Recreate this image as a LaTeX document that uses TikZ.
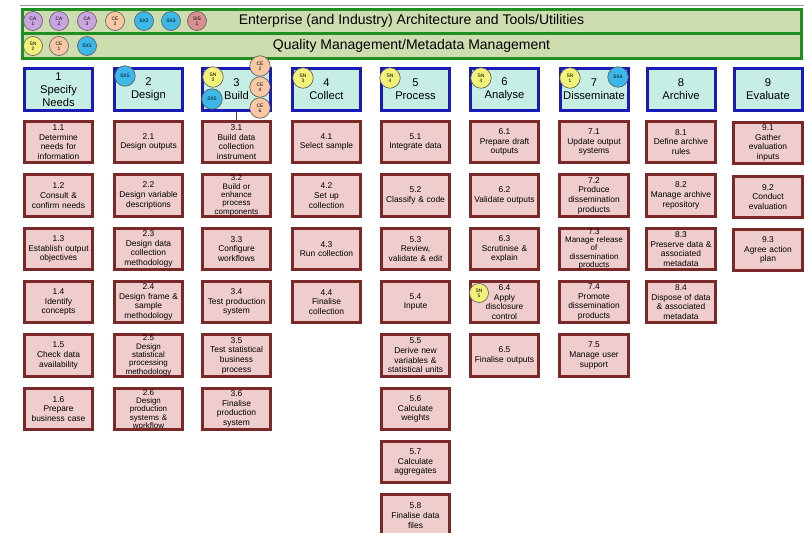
\documentclass[tikz,border=0pt]{standalone}
\usepackage{fontspec}
\setmainfont{Liberation Sans}
\definecolor{bandfill}{HTML}{CEDDB0}
\definecolor{bandline}{HTML}{1F8F22}
\definecolor{hdrfill}{HTML}{C6EEE4}
\definecolor{hdrline}{HTML}{1A1AB8}
\definecolor{taskfill}{HTML}{EFCDCD}
\definecolor{taskline}{HTML}{7A2828}
\definecolor{tagCA}{HTML}{C9A4E0}
\definecolor{tagCE}{HTML}{F8C8A4}
\definecolor{tagSX}{HTML}{3BB8E8}
\definecolor{tagSIS}{HTML}{D89090}
\definecolor{tagSN}{HTML}{F2F27A}
\tikzset{
  band/.style={draw=bandline, line width=3pt, fill=bandfill, minimum width=779pt,
    minimum height=24.5pt, inner sep=0pt, font=\fontsize{14}{16}\selectfont},
  hdr/.style={draw=hdrline, line width=3pt, fill=hdrfill, minimum width=68pt,
    minimum height=42pt, inner sep=0pt, align=center, font=\fontsize{11.2}{13}\selectfont},
  task/.style={draw=taskline, line width=2.6pt, fill=taskfill, minimum width=68.5pt,
    minimum height=41.5pt, inner sep=0pt, align=center, text width=68pt,
    font=\fontsize{8.4}{9.7}\selectfont},
  tight/.style={font=\fontsize{8}{8.3}\selectfont},
  tag/.style={circle, draw=black!65, line width=0.6pt, inner sep=0pt, align=center,
    font=\fontsize{4.9}{5.2}\selectfont},
  smalltag/.style={tag, minimum size=19pt},
  bigtag/.style={tag, minimum size=20.5pt},
}
\begin{document}
\begin{tikzpicture}[x=1pt,y=-1pt]
\useasboundingbox (0,0) rectangle (804,533);
\fill[white] (0,0) rectangle (804,533);

% thin rule above the bands
\draw[black!40, line width=1pt] (20,5) -- (804,5);

% cross-cutting bands
\node[band] (ent) at (411.5,21.25) {Enterprise (and Industry) Architecture and Tools/Utilities};
\node[band] (qm)  at (411.5,45.75) {Quality Management/Metadata Management};

% phase headers
\node[hdr] (h1) at (58.5,89.5)  {1\\Specify\\Needs};
\node[hdr] (h2) at (148.5,89.5) {2\\Design};
\node[hdr] (h3) at (236.5,89.5) {3\\Build};
\node[hdr] (h4) at (326.5,89.5) {4\\Collect};
\node[hdr] (h5) at (415.5,89.5) {5\\Process};
\node[hdr] (h6) at (504.5,89.5) {6\\Analyse};
\node[hdr] (h7) at (594,89.5)   {7\\Disseminate};
\node[hdr] (h8) at (681,89.5)   {8\\Archive};
\node[hdr] (h9) at (768,89.5)   {9\\Evaluate};

% sub-processes, column 1
\node[task] (b11) at (58.5,142)   {1.1\\Determine\\needs for\\information};
\node[task] (b12) at (58.5,195.5) {1.2\\Consult \&\\confirm needs};
\node[task] (b13) at (58.5,249)   {1.3\\Establish output\\objectives};
\node[task] (b14) at (58.5,302)   {1.4\\Identify\\concepts};
\node[task] (b15) at (58.5,355.5) {1.5\\Check data\\availability};
\node[task] (b16) at (58.5,409)   {1.6\\Prepare\\business case};

% column 2
\node[task] (b21) at (148.5,142)   {2.1\\Design outputs};
\node[task] (b22) at (148.5,195.5) {2.2\\Design variable\\descriptions};
\node[task] (b23) at (148.5,249)   {2.3\\Design data\\collection\\methodology};
\node[task] (b24) at (148.5,302)   {2.4\\Design frame \&\\sample\\methodology};
\node[task,tight] (b25) at (148.5,355.5) {2.5\\Design\\statistical\\processing\\methodology};
\node[task,tight] (b26) at (148.5,409)   {2.6\\Design\\production\\systems \&\\workflow};

% column 3
\node[task] (b31) at (236.5,142)   {3.1\\Build data\\collection\\instrument};
\node[task,tight] (b32) at (236.5,195.5) {3.2\\Build or\\enhance\\process\\components};
\node[task] (b33) at (236.5,249)   {3.3\\Configure\\workflows};
\node[task] (b34) at (236.5,302)   {3.4\\Test production\\system};
\node[task] (b35) at (236.5,355.5) {3.5\\Test statistical\\business\\process};
\node[task] (b36) at (236.5,409)   {3.6\\Finalise\\production\\system};

% column 4
\node[task] (b41) at (326.5,142)   {4.1\\Select sample};
\node[task] (b42) at (326.5,195.5) {4.2\\Set up\\collection};
\node[task] (b43) at (326.5,249)   {4.3\\Run collection};
\node[task] (b44) at (326.5,302)   {4.4\\Finalise\\collection};

% column 5
\node[task] (b51) at (415.5,142)   {5.1\\Integrate data};
\node[task] (b52) at (415.5,195.5) {5.2\\Classify \& code};
\node[task] (b53) at (415.5,249)   {5.3\\Review,\\validate \& edit};
\node[task] (b54) at (415.5,302)   {5.4\\Inpute};
\node[task] (b55) at (415.5,355.5) {5.5\\Derive new\\variables \&\\statistical units};
\node[task] (b56) at (415.5,409)   {5.6\\Calculate\\weights};
\node[task] (b57) at (415.5,462)   {5.7\\Calculate\\aggregates};
\node[task] (b58) at (415.5,515.5) {5.8\\Finalise data\\files};

% column 6
\node[task] (b61) at (504.5,142)   {6.1\\Prepare draft\\outputs};
\node[task] (b62) at (504.5,195.5) {6.2\\Validate outputs};
\node[task] (b63) at (504.5,249)   {6.3\\Scrutinise \&\\explain};
\node[task] (b64) at (504.5,302)   {6.4\\Apply\\disclosure\\control};
\node[task] (b65) at (504.5,355.5) {6.5\\Finalise outputs};

% column 7
\node[task] (b71) at (594,142)   {7.1\\Update output\\systems};
\node[task] (b72) at (594,195.5) {7.2\\Produce\\dissemination\\products};
\node[task,tight] (b73) at (594,249) {7.3\\Manage release\\of\\dissemination\\products};
\node[task] (b74) at (594,302)   {7.4\\Promote\\dissemination\\products};
\node[task] (b75) at (594,355.5) {7.5\\Manage user\\support};

% column 8
\node[task] (b81) at (681,142)   {8.1\\Define archive\\rules};
\node[task] (b82) at (681,195.5) {8.2\\Manage archive\\repository};
\node[task] (b83) at (681,249)   {8.3\\Preserve data \&\\associated\\metadata};
\node[task] (b84) at (681,302)   {8.4\\Dispose of data\\\& associated\\metadata};

% column 9
\node[task] (b91) at (768,143)   {9.1\\Gather\\evaluation\\inputs};
\node[task] (b92) at (768,197)   {9.2\\Conduct\\evaluation};
\node[task] (b93) at (768,250)   {9.3\\Agree action\\plan};

% link from Build to its first sub-process
\draw[black!70, line width=0.8pt] (h3.south) -- (b31.north);

% markers in the enterprise band
\node[smalltag, fill=tagCA]  (ca1)  at (33,21)  {CA\\1};
\node[smalltag, fill=tagCA]  (ca2)  at (59,21)  {CA\\2};
\node[smalltag, fill=tagCA]  (ca3)  at (87,21)  {CA\\3};
\node[smalltag, fill=tagCE]  (ce3)  at (115,21) {CE\\3};
\node[smalltag, fill=tagSX]  (sx2)  at (144,21) {SX2};
\node[smalltag, fill=tagSX]  (sx3)  at (171,21) {SX3};
\node[smalltag, fill=tagSIS] (sis1) at (197,21) {SIS\\1};

% markers in the quality band
\node[smalltag, fill=tagSN] (sn2) at (33,46) {SN\\2};
\node[smalltag, fill=tagCE] (ce1) at (59,46) {CE\\1};
\node[smalltag, fill=tagSX] (sx1) at (87,46) {SX1};

% markers on the phase headers
\node[bigtag, fill=tagSX] (sx5a) at (125,76)  {SX5};
\node[bigtag, fill=tagSN] (sn3a) at (213,77)  {SN\\3};
\node[bigtag, fill=tagSX] (sx5b) at (212,99)  {SX5};
\node[bigtag, fill=tagCE] (ce2)  at (260,66)  {CE\\2};
\node[bigtag, fill=tagCE] (ce4)  at (260,87)  {CE\\4};
\node[bigtag, fill=tagCE] (ce6)  at (260,108) {CE\\6};
\node[bigtag, fill=tagSN] (sn3b) at (303,78)  {SN\\3};
\node[bigtag, fill=tagSN] (sn4a) at (390,78)  {SN\\4};
\node[bigtag, fill=tagSN] (sn4b) at (481,78)  {SN\\4};
\node[bigtag, fill=tagSN] (sn1)  at (570,78)  {SN\\1};
\node[bigtag, fill=tagSX] (sx4)  at (618,77)  {SX4};

% marker on 6.4
\node[smalltag, fill=tagSN] (sn5) at (479,293) {SN\\5};
\end{tikzpicture}
\end{document}
